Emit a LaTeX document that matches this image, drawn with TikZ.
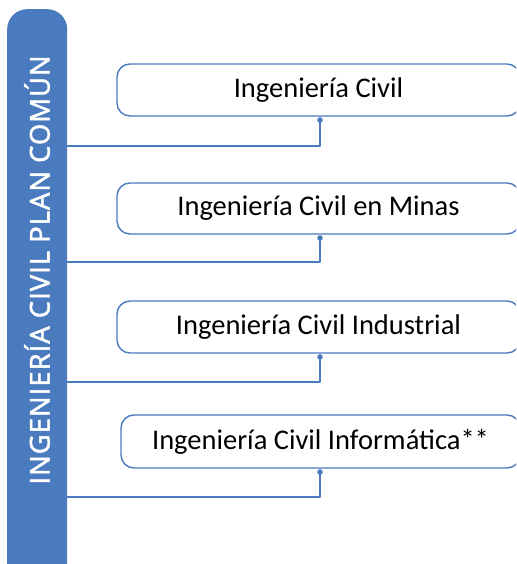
\documentclass[tikz,border=0pt]{standalone}
\usepackage{fontspec}
\setmainfont{Carlito}
\newfontfamily\barfont[LetterSpace=4,FakeBold=2]{Open Sans}
\usetikzlibrary{positioning}
\usetikzlibrary{calc}
\definecolor{planblue}{RGB}{74,123,190}

\begin{document}
\begin{tikzpicture}[x=1pt,y=-1pt,line cap=round,line join=round]
\useasboundingbox (0,0) rectangle (516,564);
\clip (0,0) rectangle (516,564);
\tikzset{carrera/.style={draw=planblue,line width=1.4pt,rounded corners=13pt,fill=white,minimum width=403pt,minimum height=52pt,inner sep=0pt,font=\fontsize{28.5}{30}\selectfont},
enlace/.style={draw=planblue,line width=1.3pt},
punto/.style={fill=planblue,draw=none}}
\node[fill=planblue,rounded corners=20pt,minimum width=60pt,minimum height=575pt,inner sep=0pt,anchor=north west] (plan) at (7,9) {};
\node[rotate=90,text=white,font=\barfont\fontsize{27.3}{29}\selectfont] (titulo) at (37,270) {INGENIERÍA CIVIL PLAN COMÚN};
\node[carrera] (civil) at (318.5,90) {Ingeniería Civil};
\node[carrera,minimum height=51pt] (minas) at (318.5,208.5) {Ingeniería Civil en Minas};
\node[carrera] (industrial) at (318.5,327) {Ingeniería Civil Industrial};
\node[carrera,minimum width=399pt,minimum height=53pt] (informatica) at (320.5,441.5) {Ingeniería Civil Informática**};
\coordinate (d1) at (320,120);\coordinate (y1) at (0,146);
\coordinate (d2) at (320,238);\coordinate (y2) at (0,262);
\coordinate (d3) at (320,357);\coordinate (y3) at (0,382);
\coordinate (d4) at (320,472);\coordinate (y4) at (0,497);
\draw[enlace] (d1) |- (plan.east |- y1);\fill[punto] (d1) circle (2.8pt);
\draw[enlace] (d2) |- (plan.east |- y2);\fill[punto] (d2) circle (2.8pt);
\draw[enlace] (d3) |- (plan.east |- y3);\fill[punto] (d3) circle (2.8pt);
\draw[enlace] (d4) |- (plan.east |- y4);\fill[punto] (d4) circle (2.8pt);
\end{tikzpicture}
\end{document}
